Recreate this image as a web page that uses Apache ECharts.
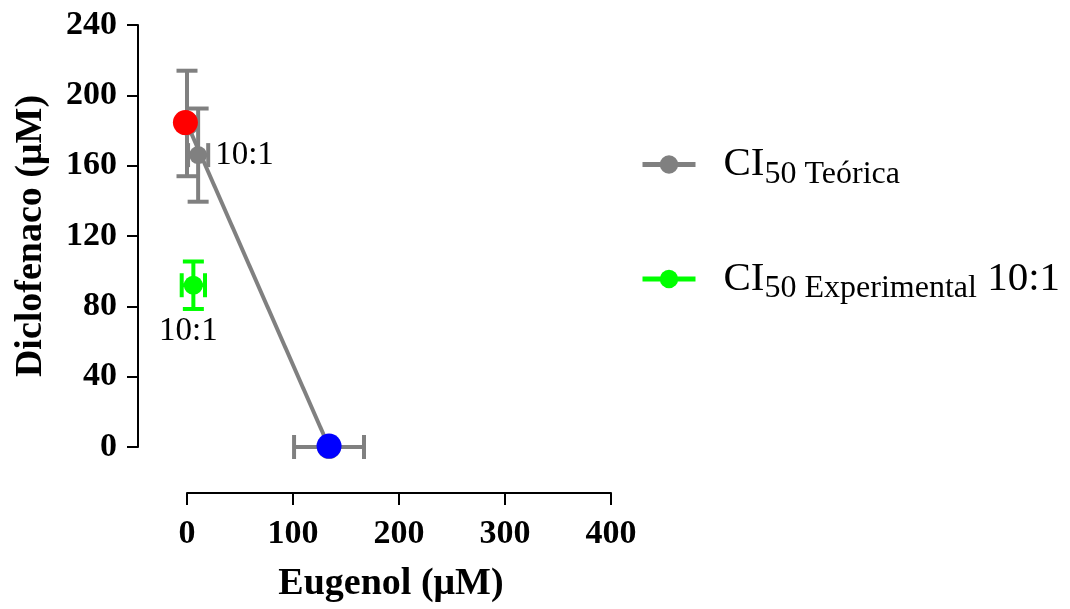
<!DOCTYPE html>
<html>
<head>
<meta charset="utf-8">
<script src="https://cdn.jsdelivr.net/npm/echarts@6/dist/echarts.min.js"></script>
<style>
html,body{margin:0;padding:0;background:#fff;}
#chart{width:1070px;height:609px;}
</style>
</head>
<body>
<div id="chart"></div>
<script>
// ---- data ----
const xTicks = [0, 100, 200, 300, 400];
const yTicks = [0, 40, 80, 120, 160, 200, 240];
// Diclofenaco alone (red) and Eugenol alone (blue): [x, y, xErr, yErr]
const diclofenacoAlone = [0, 184, 0, 30];
const eugenolAlone = [134, 0, 33, 0];
// Theoretical IC50 10:1 (gray): [x, y, xErr, yErr]
const teorica = [10.5, 166, 9.5, 26.5];
// Experimental IC50 10:1 (green): [x, y, xErr, yErr]
const experimental = [6, 92, 11, 13.5];
const pointLabel = '10:1';
const seriesNames = ['CI50 Teórica', 'CI50 Experimental'];

const serif = "'Liberation Serif', 'Times New Roman', serif";
const GRAY = '#808080';
const GREEN = '#00ff00';

function errRenderer(color) {
  return function (params, api) {
    const x = api.value(0), y = api.value(1), ex = api.value(2), ey = api.value(3);
    const style = { stroke: color, lineWidth: 4 };
    const ch = [];
    if (ey > 0) {
      const t = api.coord([x, y + ey]), b = api.coord([x, y - ey]);
      ch.push({ type: 'line', shape: { x1: t[0], y1: t[1], x2: b[0], y2: b[1] }, style });
      ch.push({ type: 'line', shape: { x1: t[0] - 10.5, y1: t[1], x2: t[0] + 10.5, y2: t[1] }, style });
      ch.push({ type: 'line', shape: { x1: b[0] - 10.5, y1: b[1], x2: b[0] + 10.5, y2: b[1] }, style });
    }
    if (ex > 0) {
      const l = api.coord([x - ex, y]), r = api.coord([x + ex, y]);
      ch.push({ type: 'line', shape: { x1: l[0], y1: l[1], x2: r[0], y2: r[1] }, style });
      ch.push({ type: 'line', shape: { x1: l[0], y1: l[1] - 12, x2: l[0], y2: l[1] + 12 }, style });
      ch.push({ type: 'line', shape: { x1: r[0], y1: r[1] - 12, x2: r[0], y2: r[1] + 12 }, style });
    }
    return { type: 'group', children: ch };
  };
}

const chart = echarts.init(document.getElementById('chart'), null, { renderer: 'canvas' });
const option = {
  backgroundColor: '#fff',
  animation: false,
  grid: { left: 187, right: 459, top: 25, bottom: 162, containLabel: false },
  legend: {
    data: seriesNames,
    orient: 'vertical',
    left: 635,
    top: 139,
    itemWidth: 53,
    itemHeight: 23,
    itemGap: 68,
    lineStyle: { width: 5 },
    formatter: function (name) {
      if (name === seriesNames[0]) return '{a|CI}{b|50 Teórica}';
      return '{a|CI}{b|50 Experimental}{a| 10:1}';
    },
    textStyle: {
      fontFamily: serif,
      color: '#000',
      padding: [0, 0, 0, 23],
      rich: {
        a: { fontFamily: serif, fontSize: 41, color: '#000', lineHeight: 44 },
        b: { fontFamily: serif, fontSize: 32, color: '#000', padding: [20, 0, 0, 0] }
      }
    }
  },
  xAxis: {
    type: 'value',
    min: 0, max: 400, interval: 100,
    offset: 46,
    name: 'Eugenol (μM)',
    nameLocation: 'middle',
    nameGap: 72,
    nameTextStyle: { fontFamily: serif, fontWeight: 'bold', fontSize: 38, color: '#000', padding: [0, 16, 0, 0] },
    axisLine: { onZero: false, lineStyle: { color: '#000', width: 2 } },
    axisTick: { length: 12, lineStyle: { color: '#000', width: 2 } },
    axisLabel: {
      fontFamily: serif, fontWeight: 'bold', fontSize: 34, color: '#000', margin: 24,
      customValues: xTicks
    },
    splitLine: { show: false }
  },
  yAxis: {
    type: 'value',
    min: 0, max: 240, interval: 40,
    offset: 49,
    name: 'Diclofenaco (μM)',
    nameLocation: 'middle',
    nameGap: 88,
    nameTextStyle: { fontFamily: serif, fontWeight: 'bold', fontSize: 38, color: '#000' },
    axisLine: { show: true, onZero: false, lineStyle: { color: '#000', width: 2 } },
    axisTick: { show: true, length: 11, lineStyle: { color: '#000', width: 2 } },
    axisLabel: {
      fontFamily: serif, fontWeight: 'bold', fontSize: 34, color: '#000', margin: 21,
      customValues: yTicks
    },
    splitLine: { show: false }
  },
  series: [
    {
      type: 'custom', name: 'errGray', z: 1, clip: false,
      renderItem: errRenderer(GRAY),
      data: [diclofenacoAlone, eugenolAlone, teorica],
      silent: true
    },
    {
      type: 'custom', name: 'errGreen', z: 1, clip: false,
      renderItem: errRenderer(GREEN),
      data: [experimental],
      silent: true
    },
    {
      type: 'line', name: 'additive', z: 2, clip: false,
      data: [[diclofenacoAlone[0], diclofenacoAlone[1]], [eugenolAlone[0], eugenolAlone[1]]],
      symbol: 'circle', symbolSize: 24,
      itemStyle: { color: GRAY },
      lineStyle: { color: GRAY, width: 4 },
      silent: true
    },
    {
      type: 'scatter', name: 'dic', z: 4, clip: false,
      data: [[diclofenacoAlone[0] - 1.5, diclofenacoAlone[1] + 0.5]],
      symbolSize: 25,
      itemStyle: { color: '#ff0000', opacity: 1 },
      silent: true
    },
    {
      type: 'scatter', name: 'eug', z: 4, clip: false,
      data: [[eugenolAlone[0], eugenolAlone[1] + 0.5]],
      symbolSize: 25,
      itemStyle: { color: '#0000ff', opacity: 1 },
      silent: true
    },
    {
      type: 'line', name: seriesNames[0], z: 3, clip: false,
      data: [[teorica[0], teorica[1]]],
      symbol: 'circle', symbolSize: 18,
      itemStyle: { color: GRAY },
      lineStyle: { color: GRAY, width: 5 },
      label: {
        show: true, position: 'right', distance: 8,
        formatter: pointLabel,
        fontFamily: serif, fontSize: 33, color: '#000'
      }
    },
    {
      type: 'line', name: seriesNames[1], z: 3, clip: false,
      data: [[experimental[0], experimental[1]]],
      symbol: 'circle', symbolSize: 19,
      itemStyle: { color: GREEN },
      lineStyle: { color: GREEN, width: 5 },
      label: {
        show: true, position: 'bottom', distance: 20, offset: [-5, 0],
        formatter: pointLabel,
        fontFamily: serif, fontSize: 33, color: '#000'
      }
    }
  ]
};
chart.setOption(option);
</script>
</body>
</html>
